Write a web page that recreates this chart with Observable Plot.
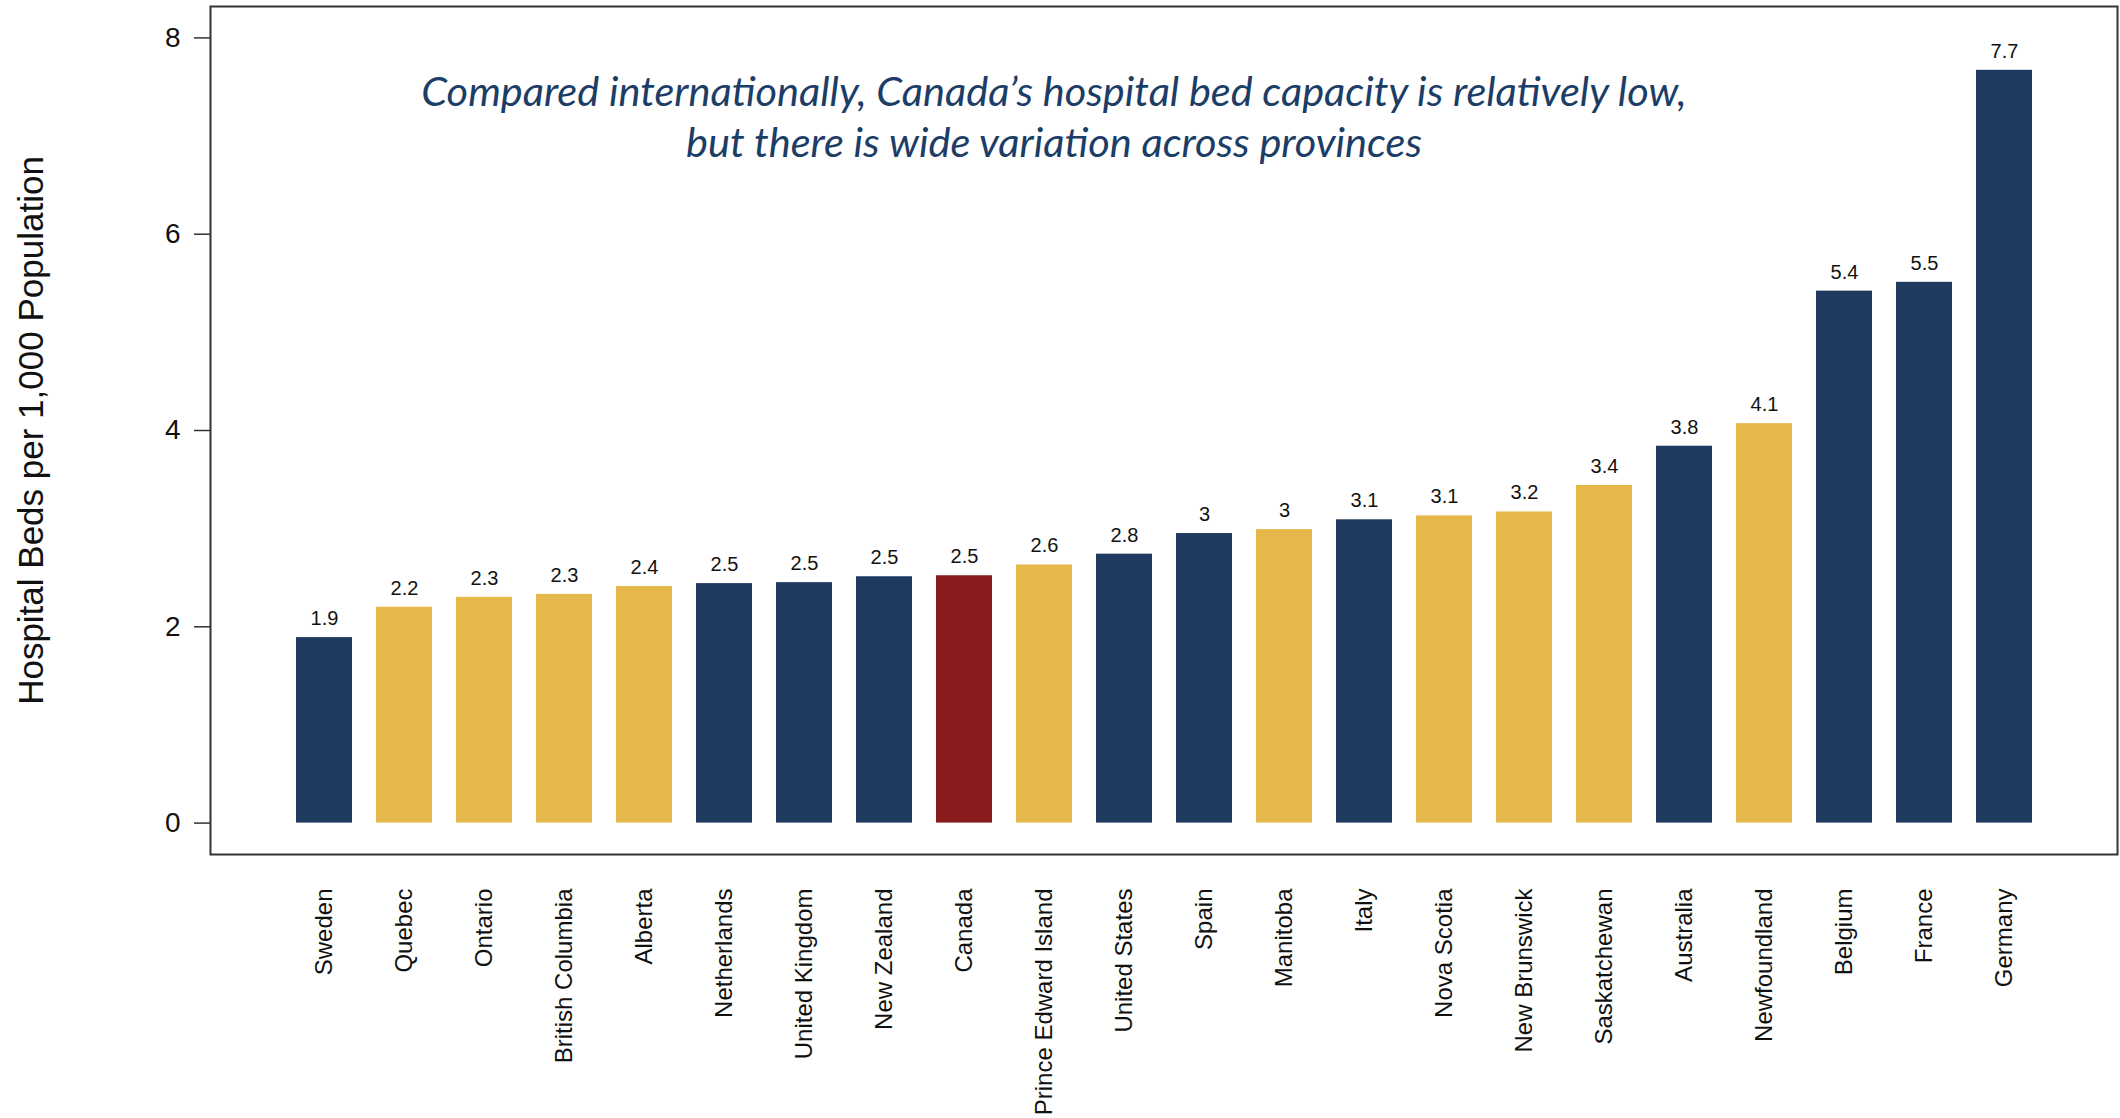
<!DOCTYPE html>
<html>
<head>
<meta charset="utf-8">
<script src="https://cdn.jsdelivr.net/npm/d3@7"></script>
<script src="https://cdn.jsdelivr.net/npm/@observablehq/plot@0.6"></script>
<style>
  html, body { margin: 0; padding: 0; background: #ffffff; }
  #chart svg { display: block; }
</style>
</head>
<body>
<div id="chart"></div>
<script>
// ---- Data ----
const regions = [
  "Sweden", "Quebec", "Ontario", "British Columbia", "Alberta", "Netherlands",
  "United Kingdom", "New Zealand", "Canada", "Prince Edward Island", "United States",
  "Spain", "Manitoba", "Italy", "Nova Scotia", "New Brunswick", "Saskatchewan",
  "Australia", "Newfoundland", "Belgium", "France", "Germany"
];
const beds = [
  1.89, 2.20, 2.30, 2.33, 2.41, 2.44,
  2.45, 2.51, 2.52, 2.63, 2.74,
  2.95, 2.99, 3.09, 3.13, 3.17, 3.44,
  3.84, 4.07, 5.42, 5.51, 7.67
];
const valueLabels = [
  "1.9", "2.2", "2.3", "2.3", "2.4", "2.5",
  "2.5", "2.5", "2.5", "2.6", "2.8",
  "3", "3", "3.1", "3.1", "3.2", "3.4",
  "3.8", "4.1", "5.4", "5.5", "7.7"
];
const groups = [
  "Country", "Province", "Province", "Province", "Province", "Country",
  "Country", "Country", "Canada", "Province", "Country",
  "Country", "Province", "Country", "Province", "Province", "Province",
  "Country", "Province", "Country", "Country", "Country"
];
const groupNames = ["Country", "Province", "Canada"];
const groupColors = ["#1f3a5f", "#e6b84b", "#8b1c1d"];
const yTicks = [0, 2, 4, 6, 8];
const yLabel = "Hospital Beds per 1,000 Population";
const headline = "Compared internationally, Canada\u2019s hospital bed capacity is relatively low,\nbut there is wide variation across provinces";

// table built from the arrays
const data = regions.map((r, i) => ({region: r, beds: beds[i], label: valueLabels[i], group: groups[i]}));

const chart = Plot.plot({
  width: 2120,
  height: 1118,
  marginLeft: 210,
  marginRight: 3,
  marginTop: 6,
  marginBottom: 264,
  style: {fontFamily: "'Liberation Sans', Arial, sans-serif", background: "#ffffff", color: "#111"},
  x: {domain: regions, paddingInner: 0.3, paddingOuter: 1.03, label: null},
  y: {domain: [-0.32, 8.32], label: null},
  color: {domain: groupNames, range: groupColors},
  marks: [
    Plot.barY(data, {x: "region", y: "beds", fill: "group"}),
    Plot.text(data, {x: "region", y: "beds", text: "label", dy: -12.5, lineAnchor: "bottom", fontSize: 20, fill: "#111"}),
    Plot.frame({stroke: "#333", strokeWidth: 2}),
    Plot.axisX({tickSize: 0, tickPadding: 34, tickRotate: -90, fontSize: 24, fill: "#111", label: null}),
    Plot.axisY(yTicks, {
      tickSize: 16, tickPadding: 14, fontSize: 28, fill: "#111", stroke: "#333", strokeWidth: 1.5,
      tickFormat: d => String(d), label: null
    }),
    Plot.axisY([], {
      tickSize: 0, fontSize: 35, fill: "#111",
      label: yLabel, labelAnchor: "center", labelOffset: 192, labelArrow: "none"
    }),
    Plot.text([headline], {
      frameAnchor: "top", dx: -110, dy: 63, lineAnchor: "top", lineHeight: 1.24,
      fontSize: 41.5, fontStyle: "italic", fontFamily: "Lato", fill: "#1c3d66"
    })
  ]
});
document.getElementById("chart").appendChild(chart);
</script>
</body>
</html>
